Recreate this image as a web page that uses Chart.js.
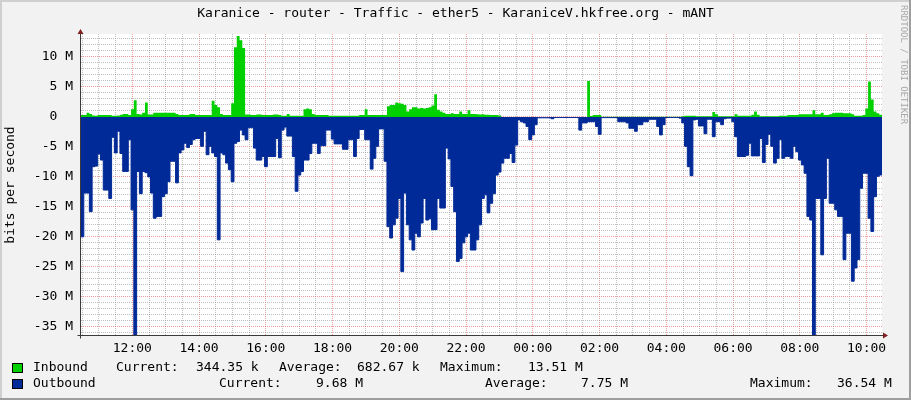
<!DOCTYPE html>
<html>
<head>
<meta charset="utf-8">
<title>Karanice - router - Traffic - ether5</title>
<script src="https://cdn.jsdelivr.net/npm/chart.js"></script>
<style>
  html, body { margin: 0; padding: 0; background: #f2f2f2; }
  #wrap { width: 911px; height: 400px; }
</style>
</head>
<body>
<div id="wrap"><canvas id="graph" width="911" height="400"></canvas></div>
<script>
// left edge of the graph, in hours (10:27), and the rrd step
var startHour = 10.461;
var stepMinutes = 5;

// Mbit/s, one value per 5 minutes
var inbound = [
  0.3, 0.3, 0.7, 0.5, 0.25, 0.2, 0.3, 0.3, 0.3, 0.3, 0.3, 0.2,
  0.2, 0.25, 0.35, 0.5, 0.5, 0.3, 1.3, 2.8, 0.5, 0.4, 0.7, 2.4,
  0.4, 0.4, 0.7, 0.7, 0.7, 0.7, 0.7, 0.7, 0.7, 0.7, 0.5, 0.3,
  0.3, 0.3, 0.3, 0.5, 0.5, 0.3, 0.3, 0.3, 0.3, 0.3, 0.3, 2.7,
  2.0, 1.6, 0.5, 0.3, 0.3, 0.3, 2.3, 11.6, 13.51, 12.8, 11.5, 0.4,
  0.4, 0.3, 0.3, 0.4, 0.4, 0.3, 0.3, 0.3, 0.3, 0.4, 0.4, 0.3,
  0.2, 0.2, 0.5, 0.2, 0.2, 0.2, 0.2, 0.2, 1.3, 1.4, 1.3, 0.5,
  0.3, 0.3, 0.3, 0.3, 0.3, 0.2, 0.2, 0.2, 0.2, 0.2, 0.2, 0.2,
  0.2, 0.2, 0.2, 0.2, 0.3, 0.3, 1.3, 0.3, 0.3, 0.3, 0.3, 0.3,
  0.3, 0.3, 1.8, 2.0, 2.0, 2.4, 2.3, 2.2, 2.0, 0.9, 1.3, 1.6,
  1.6, 1.4, 1.5, 1.4, 1.5, 1.6, 1.9, 3.8, 1.2, 0.9, 0.7, 0.5,
  0.5, 0.6, 0.5, 0.5, 0.9, 0.5, 0.5, 1.1, 0.5, 0.5, 0.45, 0.4,
  0.45, 0.35, 0.35, 0.3, 0.3, 0.3, 0.25, 0, 0, 0, 0, 0,
  0, 0, 0, 0, 0, 0, 0, 0, 0, 0, 0, 0,
  0, 0, 0, 0, 0, 0, 0, 0, 0, 0, 0, 0,
  0, 0, 6.0, 0.15, 0.3, 0.3, 0.3, 0.03, 0.03, 0.03, 0.03, 0.03,
  0.03, 0.03, 0.03, 0.03, 0.03, 0.03, 0.03, 0.03, 0.03, 0.03, 0.03, 0.03,
  0.03, 0.03, 0.03, 0.03, 0.03, 0.03, 0.03, 0.03, 0.03, 0.03, 0.03, 0.03,
  0.1, 0.2, 0.2, 0.2, 0.2, 0.1, 0.1, 0.1, 0.1, 0.1, 0.1, 0.8,
  0.45, 0.1, 0.1, 0.1, 0.1, 0.1, 0.1, 0.45, 0.2, 0.2, 0.2, 0.2,
  0.2, 0.35, 0.9, 0.35, 0.1, 0.1, 0.1, 0.1, 0.1, 0.1, 0.1, 0.2,
  0.2, 0.2, 0.33, 0.33, 0.33, 0.33, 0.45, 0.45, 0.45, 0.45, 0.45, 1.1,
  0.45, 0.45, 0.7, 0.33, 0.33, 0.45, 0.6, 0.7, 0.7, 0.7, 0.6, 0.6,
  0.6, 0.45, 0.2, 0.2, 0.2, 0.3, 1.4, 5.9, 2.9, 0.9, 0.6, 0.344
];

// Mbit/s, drawn below zero
var outbound = [
  20, 12.7, 12.7, 15.8, 8.3, 8.2, 6.2, 7.2, 12.2, 12.2, 13.6, 3.4,
  6, 2.4, 6.1, 9.1, 9.1, 3.8, 15.5, 36.5, 9.1, 12.8, 9.1, 9.3,
  10, 12.7, 16.9, 16.6, 16.6, 13.3, 12.8, 10.8, 7.4, 7.4, 11, 6,
  5.5, 4.4, 5.1, 4.6, 3.8, 3.6, 3.6, 4.9, 2.4, 6.3, 4.9, 6,
  6.6, 20.5, 6, 6.3, 7.7, 8.8, 10.8, 4.4, 4.1, 2.2, 3, 3.8,
  1.8, 1.8, 5.2, 7.2, 7.2, 6.6, 8.3, 6.6, 6.6, 6.6, 3.6, 6.8,
  2.2, 1.7, 3.2, 3.2, 6.6, 12.4, 9.7, 9.1, 7.2, 7.2, 6.1, 4.4,
  4.4, 6.1, 4.8, 4.8, 2.2, 2.2, 3.7, 4.5, 4.5, 4.5, 5.4, 5.4,
  3.8, 3.8, 6.6, 3.6, 2.1, 2.1, 3.8, 3.8, 8.7, 6.9, 4.9, 2,
  2, 7.4, 18.3, 20.2, 18, 16.9, 13.6, 25.8, 12.7, 18, 20.5, 22.2,
  19.4, 20, 17.7, 13.6, 17.2, 17, 18.8, 18.8, 13.6, 15.2, 15.2, 5.2,
  7, 11.6, 15.8, 24.1, 23.6, 21, 20, 19.4, 22.2, 22.2, 20.5, 18,
  13.6, 13, 16, 14.4, 12.8, 9.7, 9.2, 7.7, 6.9, 6.9, 6.1, 7.6,
  4.7, 0.5, 0.8, 1.0, 1.6, 3.8, 3.0, 1.3, 0.15, 0.15, 0.15, 0.15,
  0.15, 0.3, 0.1, 0.1, 0.1, 0.1, 0.1, 0.1, 0.1, 0.1, 0.1, 2.2,
  1.0, 1.0, 0.8, 0.8, 0.8, 1.6, 2.9, 0.12, 0.12, 0.12, 0.12, 0.12,
  0.12, 0.8, 0.8, 0.8, 1.0, 1.9, 1.9, 2.4, 1.3, 1.3, 0.8, 0.8,
  0.4, 0.4, 0.4, 1.6, 3.0, 1.3, 0.1, 0.1, 0.1, 0.1, 0.1, 0.2,
  1.0, 4.9, 8.3, 9.8, 0.5, 0.4, 1.5, 1.5, 2.8, 0.4, 0.4, 3.3,
  0.8, 0.8, 1.3, 0.3, 0.2, 0.2, 0.8, 3.3, 6.6, 6.6, 6.6, 6.4,
  4.4, 6.5, 6.5, 6.5, 3.6, 7.6, 4.6, 2.9, 4.9, 7.7, 6.9, 3.8,
  6.9, 6.6, 6.6, 6.9, 4.9, 5.8, 7.2, 8, 9.4, 16.6, 17.2, 36.54,
  13.6, 13.6, 23, 13.6, 6.9, 14.4, 14.4, 15.5, 16.6, 16.6, 23.8, 19.4,
  19.4, 27.4, 25.2, 23.8, 11.9, 9.4, 9.4, 16.9, 19.1, 13.3, 9.9, 9.68
];

var tickHours = [12, 14, 16, 18, 20, 22, 24, 26, 28, 30, 32, 34];
var tickLabels = ['12:00', '14:00', '16:00', '18:00', '20:00', '22:00',
                  '00:00', '02:00', '04:00', '06:00', '08:00', '10:00'];
var yMin = -36.54;
var yMax = 13.83;

var title = 'Karanice - router - Traffic - ether5 - KaraniceV.hkfree.org - mANT';
var seriesNames = ['Inbound', 'Outbound'];
var statNames = ['Current:', 'Average:', 'Maximum:'];
var inboundStats = ['344.35 k', '682.67 k', '13.51 M'];
var outboundStats = ['9.68 M', '7.75 M', '36.54 M'];

var GREEN = '#00cf00';
var BLUE = '#002a97';
var GRID = 'rgba(140,140,140,0.55)';
var MGRID = 'rgba(222,79,79,0.55)';
var MONO = '"DejaVu Sans Mono", monospace';

function toPoints(values, sign) {
  var pts = values.map(function (v, i) {
    return {x: startHour + i * stepMinutes / 60, y: sign * v};
  });
  // close the last step at the right edge
  pts.push({x: startHour + values.length * stepMinutes / 60, y: sign * values[values.length - 1]});
  return pts;
}

var rrdLook = {
  id: 'rrdLook',
  beforeDraw: function (chart) {
    var ctx = chart.ctx, a = chart.chartArea, w = chart.width, h = chart.height;
    ctx.save();
    ctx.fillStyle = '#f2f2f2';
    ctx.fillRect(0, 0, w, h);
    ctx.fillStyle = '#cfcfcf';
    ctx.fillRect(0, 0, w, 2);
    ctx.fillRect(0, 0, 2, h);
    ctx.fillStyle = '#9e9e9e';
    ctx.fillRect(0, h - 2, w, 2);
    ctx.fillRect(w - 2, 0, 2, h);
    ctx.fillStyle = '#ffffff';
    ctx.fillRect(a.left, a.top, a.right - a.left, a.bottom - a.top);
    ctx.restore();
  },
  afterDraw: function (chart) {
    var ctx = chart.ctx, a = chart.chartArea;
    var ax = a.left - 0.5, ay = a.bottom - 0.5;
    ctx.save();

    // axes with arrows
    ctx.strokeStyle = '#3a3a3a';
    ctx.lineWidth = 1;
    ctx.beginPath();
    ctx.moveTo(ax, ay + 3);
    ctx.lineTo(ax, a.top - 1);
    ctx.moveTo(ax - 3, ay);
    ctx.lineTo(a.right + 2, ay);
    ctx.stroke();
    ctx.fillStyle = '#801f1f';
    ctx.beginPath();
    ctx.moveTo(ax - 3, a.top);
    ctx.lineTo(ax + 3, a.top);
    ctx.lineTo(ax, a.top - 5);
    ctx.closePath();
    ctx.fill();
    ctx.beginPath();
    ctx.moveTo(a.right + 1, ay - 3);
    ctx.lineTo(a.right + 1, ay + 3);
    ctx.lineTo(a.right + 6, ay);
    ctx.closePath();
    ctx.fill();

    // title
    ctx.fillStyle = '#000';
    ctx.font = '13px ' + MONO;
    ctx.textBaseline = 'middle';
    ctx.textAlign = 'center';
    ctx.fillText(title, chart.width / 2, 14);

    // legend
    ctx.textAlign = 'left';
    var rows = [
      {y: 368, color: GREEN, name: seriesNames[0], stats: inboundStats,
       xs: [116, 196, 279, 357, 440, 528]},
      {y: 384, color: BLUE, name: seriesNames[1], stats: outboundStats,
       xs: [219, 316, 485, 581, 750, 837]}
    ];
    rows.forEach(function (r) {
      ctx.fillStyle = r.color;
      ctx.fillRect(12, r.y - 5, 11, 10);
      ctx.strokeStyle = '#000';
      ctx.strokeRect(12.5, r.y - 4.5, 10, 9);
      ctx.fillStyle = '#000';
      ctx.fillText(r.name, 33, r.y);
      for (var k = 0; k < 3; k++) {
        ctx.fillText(statNames[k], r.xs[2 * k], r.y);
        ctx.fillText(r.stats[k], r.xs[2 * k + 1], r.y);
      }
    });

    // watermark
    ctx.translate(903, 5);
    ctx.rotate(Math.PI / 2);
    ctx.fillStyle = '#a8a8a8';
    ctx.font = '9px ' + MONO;
    ctx.fillText('RRDTOOL / TOBI OETIKER', 0, 0);
    ctx.restore();
  }
};

new Chart(document.getElementById('graph'), {
  type: 'line',
  data: {
    datasets: [
      {
        label: seriesNames[1],
        data: toPoints(outbound, -1),
        borderColor: BLUE,
        backgroundColor: BLUE,
        borderWidth: 1,
        fill: 'origin',
        stepped: 'before',
        pointRadius: 0
      },
      {
        label: seriesNames[0],
        data: toPoints(inbound, 1),
        borderColor: 'rgba(0,0,0,0)',
        backgroundColor: GREEN,
        borderWidth: 1,
        fill: 'origin',
        stepped: 'before',
        pointRadius: 0
      }
    ]
  },
  options: {
    responsive: false,
    animation: false,
    devicePixelRatio: 1,
    events: [],
    layout: {padding: {top: 34, right: 29, left: 0, bottom: 0}},
    plugins: {legend: {display: false}, tooltip: {enabled: false}, title: {display: false}},
    scales: {
      x: {
        type: 'linear',
        min: startHour,
        max: startHour + 24,
        afterBuildTicks: function (scale) {
          var ticks = [];
          for (var t = Math.ceil(startHour * 2) / 2; t <= startHour + 24; t += 0.5) ticks.push({value: t});
          scale.ticks = ticks;
        },
        afterFit: function (scale) { scale.height = 64; },
        grid: {
          drawTicks: false,
          color: function (c) {
            return c.tick && tickHours.indexOf(c.tick.value) >= 0 ? MGRID : GRID;
          }
        },
        border: {display: false, dash: [1, 1]},
        ticks: {
          autoSkip: false,
          maxRotation: 0,
          padding: 5,
          color: '#000',
          font: {family: MONO, size: 13},
          callback: function (v) {
            var k = tickHours.indexOf(v);
            return k >= 0 ? tickLabels[k] : '';
          }
        }
      },
      y: {
        type: 'linear',
        min: yMin,
        max: yMax,
        afterBuildTicks: function (scale) {
          var ticks = [];
          for (var v = Math.ceil(yMin); v <= Math.floor(yMax); v++) ticks.push({value: v});
          scale.ticks = ticks;
        },
        afterFit: function (scale) { scale.width = 81; },
        grid: {
          drawTicks: false,
          color: function (c) {
            return c.tick && c.tick.value % 5 === 0 ? MGRID : GRID;
          }
        },
        border: {display: false, dash: [1, 1]},
        title: {
          display: true,
          text: 'bits per second',
          color: '#000',
          font: {family: MONO, size: 13},
          padding: {top: 3, bottom: 0}
        },
        ticks: {
          autoSkip: false,
          padding: 8,
          color: '#000',
          font: {family: MONO, size: 13},
          callback: function (v) {
            if (v % 5 !== 0) return '';
            return v === 0 ? '0  ' : v + ' M';
          }
        }
      }
    }
  },
  plugins: [rrdLook]
});
</script>
</body>
</html>
